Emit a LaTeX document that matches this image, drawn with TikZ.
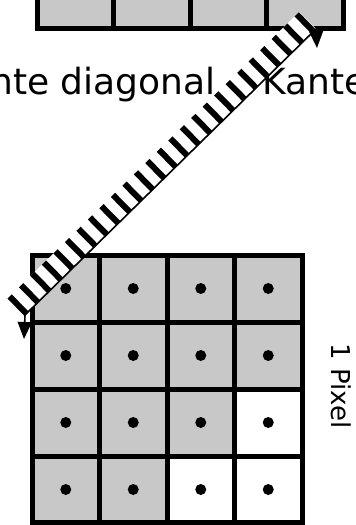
\documentclass[tikz,border=0pt]{standalone}
\usepackage{fontspec}
\setmainfont{DejaVu Sans}
\usetikzlibrary{arrows.meta,calc}
\definecolor{cellgray}{RGB}{200,200,200}
\begin{document}
\begin{tikzpicture}[x=1pt,y=-1pt,
  gridline/.style={line width=5pt},
  pdot/.style={circle,fill=black,inner sep=0pt,minimum size=11pt},
  hatchtick/.style={line width=6pt},
  edgeline/.style={line width=1.6pt},
  downarrow/.style={line width=1.6pt,-{Triangle[width=14pt,length=17pt]}},
  lbl/.style={inner sep=0pt}]
\useasboundingbox (0,0) rectangle (356,525);
% top row of pixels (cut off)
\foreach \i in {0,...,3} \fill[cellgray] (37+76.5*\i,-40) rectangle ++(76.5,68);
\draw[gridline] (37,-40) rectangle (343,28);
\foreach \i in {1,2,3} \draw[gridline] (37+76.5*\i,-40) -- ++(0,68);
% lower 4x4 grid
\foreach \r in {0,...,3}
  \foreach \c in {0,...,3} {
    \pgfmathsetmacro{\isw}{((\r==2 && \c==3) || (\r==3 && \c>=2)) ? 1 : 0}
    \ifdim\isw pt=1pt
      \fill[white] (32+67.5*\c,255+67*\r) rectangle ++(67.5,67);
    \else
      \fill[cellgray] (32+67.5*\c,255+67*\r) rectangle ++(67.5,67);
    \fi
    \node[pdot] (d\r\c) at (32+67.5*\c+33.75,255+67*\r+33.5) {};
  }
\draw[gridline] (32,255) rectangle (302,522);
\foreach \i in {1,2,3} {
  \draw[gridline] (32+67.5*\i,255) -- (32+67.5*\i,522);
  \draw[gridline] (32,255+67*\i) -- (302,255+67*\i);
}
% labels
\node[lbl,anchor=base west,font=\fontsize{36}{42}\selectfont] (title) at (-10,94) {nte diagonal\hspace{36pt} Kante};
\node[lbl,rotate=-90,font=\fontsize{26}{30}\selectfont] (px) at (341,386) {1 Pixel};
% hatched edge
\coordinate (T) at (316,29);
\coordinate (B) at (25,315);
\fill[white] (T) -- (B) -- ($(B)!24pt!90:(T)$) -- ($(T)!24pt!-90:(B)$) -- cycle;
\foreach \k in {0,...,25} {
  \pgfmathsetmacro{\dd}{3.5+16.1*\k}
  \path ($(T)!\dd pt!(B)$) coordinate (h);
  \draw[hatchtick] (h) -- ($(h)!24pt!-90:(B)$);
}
\draw[edgeline] (T) -- (B);
\coordinate (Ta) at (317,48);
\coordinate (Ba) at (24,339);
\draw[downarrow] (T) -- (Ta);
\draw[downarrow] (B) -- (Ba);
\end{tikzpicture}
\end{document}
